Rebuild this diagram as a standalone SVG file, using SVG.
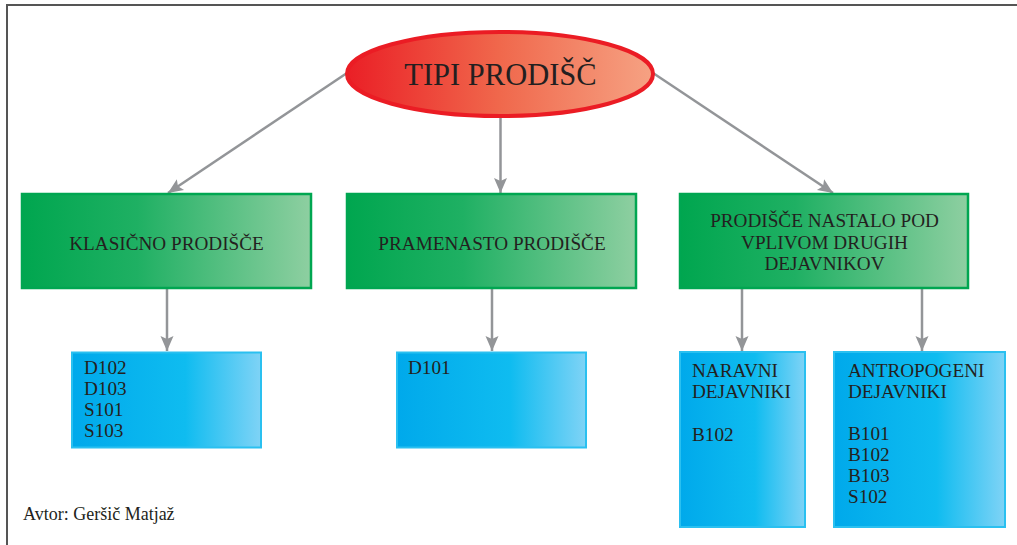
<svg xmlns="http://www.w3.org/2000/svg" width="1017" height="545" viewBox="0 0 1017 545">
<defs>
<linearGradient id="gRed" x1="0" y1="0" x2="1" y2="0">
<stop offset="0" stop-color="#ea1f26"/>
<stop offset="0.5" stop-color="#f0684c"/>
<stop offset="1" stop-color="#f6a283"/>
</linearGradient>
<linearGradient id="gGreen" x1="0" y1="0" x2="1" y2="0">
<stop offset="0" stop-color="#00a64f"/>
<stop offset="0.4" stop-color="#1fb063"/>
<stop offset="1" stop-color="#8ecfa1"/>
</linearGradient>
<linearGradient id="gBlue" x1="0" y1="0" x2="1" y2="0">
<stop offset="0" stop-color="#00a9eb"/>
<stop offset="0.6" stop-color="#0fbcf0"/>
<stop offset="1" stop-color="#7fd3f6"/>
</linearGradient>
<marker id="arr" markerUnits="userSpaceOnUse" markerWidth="16" markerHeight="16" viewBox="0 0 16 16" refX="15" refY="8" orient="auto">
<path d="M0,1.5 L15,8 L0,14.5 L3,8 Z" fill="#939598"/>
</marker>
<style>
.t{font-family:"Liberation Serif","Times New Roman",serif;fill:#231f20;}
.box{font-size:19.2px;}
.g{fill:url(#gGreen);stroke:#00a651;stroke-width:2.5;}
.b{fill:url(#gBlue);stroke:#2ac0f0;stroke-width:2;}
.c{stroke:#939598;stroke-width:2.5;fill:none;marker-end:url(#arr);}
</style>
</defs>
<rect width="1017" height="545" fill="#ffffff"/>
<g id="frame">
<line x1="6" y1="5" x2="1017" y2="5" stroke="#555" stroke-width="2"/>
<line x1="7" y1="4" x2="7" y2="545" stroke="#555" stroke-width="2"/>
</g>
<g id="connectors">
<line class="c" x1="347" y1="73" x2="168" y2="193"/>
<line class="c" x1="500.5" y1="118" x2="500.5" y2="193"/>
<line class="c" x1="653" y1="73" x2="833" y2="193"/>
<line class="c" x1="167" y1="289" x2="167" y2="351"/>
<line class="c" x1="492" y1="289" x2="492" y2="351"/>
<line class="c" x1="742" y1="289" x2="742" y2="351"/>
<line class="c" x1="922" y1="289" x2="922" y2="351"/>
</g>
<g id="root">
<ellipse cx="500" cy="74" rx="153" ry="42" fill="url(#gRed)" stroke="#eb1c24" stroke-width="4"/>
<text class="t" x="500.5" y="85" font-size="30.5" text-anchor="middle">TIPI PRODIŠČ</text>
</g>
<g id="klasicno">
<rect class="g" x="22" y="194" width="289" height="94"/>
<text class="t box" x="166.5" y="250" text-anchor="middle">KLASIČNO PRODIŠČE</text>
</g>
<g id="pramenasto">
<rect class="g" x="347" y="194" width="289" height="94"/>
<text class="t box" x="492" y="250" text-anchor="middle">PRAMENASTO PRODIŠČE</text>
</g>
<g id="drugi">
<rect class="g" x="680" y="194" width="288" height="94"/>
<text class="t box" x="824.5" y="227" text-anchor="middle">PRODIŠČE NASTALO POD</text>
<text class="t box" x="824.5" y="249" text-anchor="middle">VPLIVOM DRUGIH</text>
<text class="t box" x="824.5" y="270" text-anchor="middle">DEJAVNIKOV</text>
</g>
<g id="klasicno-list">
<rect class="b" x="72" y="352.5" width="189" height="95"/>
<text class="t box" x="84" y="374">D102</text>
<text class="t box" x="84" y="395">D103</text>
<text class="t box" x="84" y="416">S101</text>
<text class="t box" x="84" y="437">S103</text>
</g>
<g id="pramenasto-list">
<rect class="b" x="397" y="352.5" width="189" height="95"/>
<text class="t box" x="408" y="374">D101</text>
</g>
<g id="naravni">
<rect class="b" x="680" y="352" width="125" height="175"/>
<text class="t box" x="692" y="377">NARAVNI</text>
<text class="t box" x="692" y="398">DEJAVNIKI</text>
<text class="t box" x="692" y="441">B102</text>
</g>
<g id="antropogeni">
<rect class="b" x="834" y="352" width="171" height="175"/>
<text class="t box" x="848" y="377">ANTROPOGENI</text>
<text class="t box" x="848" y="398">DEJAVNIKI</text>
<text class="t box" x="848" y="440">B101</text>
<text class="t box" x="848" y="461">B102</text>
<text class="t box" x="848" y="482">B103</text>
<text class="t box" x="848" y="503">S102</text>
</g>
<text class="t" x="23" y="520" font-size="18">Avtor: Geršič Matjaž</text>
</svg>
